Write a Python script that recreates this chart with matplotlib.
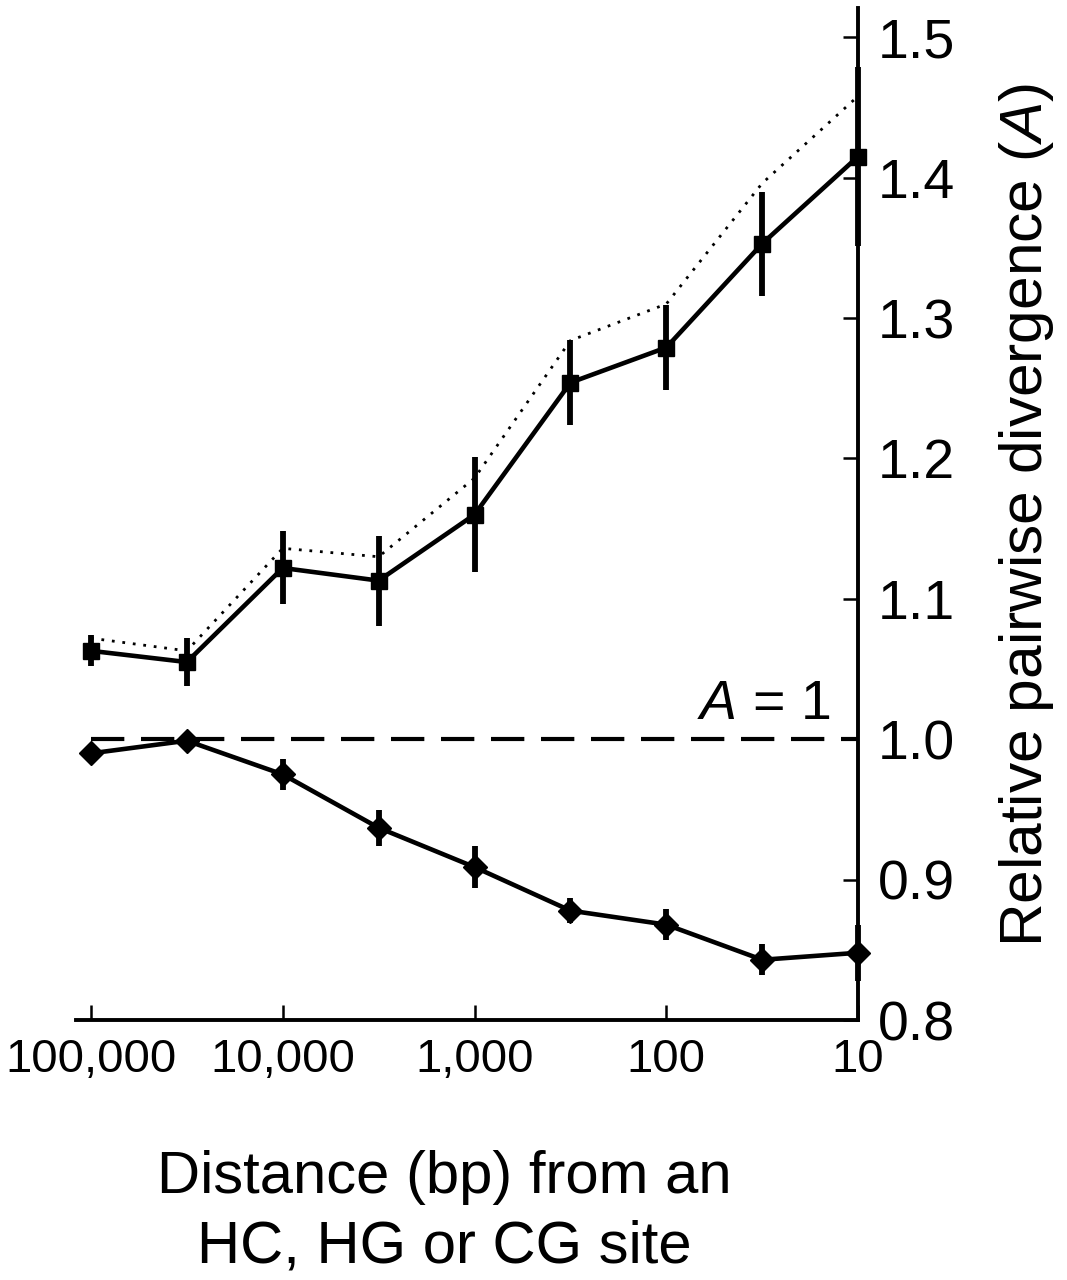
import numpy as np
import matplotlib
matplotlib.use('Agg')
import matplotlib.pyplot as plt

plt.rcParams['font.family'] = ['Liberation Sans', 'DejaVu Sans']
plt.rcParams['mathtext.fontset'] = 'custom'
plt.rcParams['mathtext.rm'] = 'Liberation Sans'
plt.rcParams['mathtext.it'] = 'Liberation Sans:italic'

# Данные
distance = [100000, 31623, 10000, 3162, 1000, 316, 100, 31.6, 10]
square_vals = [1.063, 1.055, 1.122, 1.113, 1.160, 1.254, 1.279, 1.353, 1.415]
square_err = [0.011, 0.017, 0.026, 0.032, 0.041, 0.030, 0.030, 0.037, 0.064]
dotted_vals = [1.072, 1.063, 1.136, 1.130, 1.186, 1.284, 1.310, 1.396, 1.458]
diamond_vals = [0.990, 0.999, 0.975, 0.937, 0.909, 0.878, 0.868, 0.843, 0.848]
diamond_err = [0.0, 0.0, 0.011, 0.013, 0.015, 0.009, 0.011, 0.011, 0.02]
x_ticks = [100000, 10000, 1000, 100, 10]
x_ticklabels = ['100,000', '10,000', '1,000', '100', '10']
y_ticks = [0.8, 0.9, 1.0, 1.1, 1.2, 1.3, 1.4, 1.5]
a_ref = 1.0

fig = plt.figure(figsize=(10.67, 12.8), dpi=100)
ax = fig.add_axes([0.0712, 0.203, 0.733, 0.791])

# Пунктирная линия
ax.plot(distance, dotted_vals, color='black', lw=2.0, linestyle=(0, (1, 2.8)),
        clip_on=False)

# Квадраты с ошибками
ax.errorbar(distance, square_vals, yerr=square_err, color='black', lw=3.3,
            elinewidth=4.2, capsize=0, marker='s', markersize=12,
            clip_on=False, zorder=3)

# Ромбы с ошибками
ax.errorbar(distance, diamond_vals, yerr=diamond_err, color='black', lw=3.3,
            elinewidth=4.2, capsize=0, marker='D', markersize=12,
            clip_on=False, zorder=3)

# Линия A = 1
ax.hlines(a_ref, distance[0], distance[-1], colors='black', lw=3.0,
          linestyles=(0, (8, 4)))
ax.text(14, a_ref + 0.006, '$A$ = 1', ha='right', va='bottom', fontsize=40)

ax.set_xscale('log')
ax.set_xlim(119700, 10)
ax.set_ylim(0.8, 1.521)
ax.set_xticks(x_ticks)
ax.set_xticklabels(x_ticklabels)
ax.xaxis.set_minor_locator(matplotlib.ticker.NullLocator())
ax.set_yticks(y_ticks)
ax.set_yticklabels(['%.1f' % v for v in y_ticks])

ax.spines['left'].set_visible(False)
ax.spines['top'].set_visible(False)
ax.spines['right'].set_linewidth(2.8)
ax.spines['bottom'].set_linewidth(2.8)
ax.yaxis.tick_right()
ax.tick_params(axis='x', direction='in', length=11, width=1.8, labelsize=34, pad=13)
ax.tick_params(axis='y', direction='in', length=11, width=1.8, labelsize=40, pad=14)

fig.text(0.9625, 0.598, 'Relative pairwise divergence ($A$)', rotation=90,
         ha='center', va='center', fontsize=43.5)
fig.text(0.416, 0.053, 'Distance (bp) from an\nHC, HG or CG site',
         ha='center', va='center', fontsize=43, linespacing=1.35)

plt.savefig('out.png', dpi=100)
